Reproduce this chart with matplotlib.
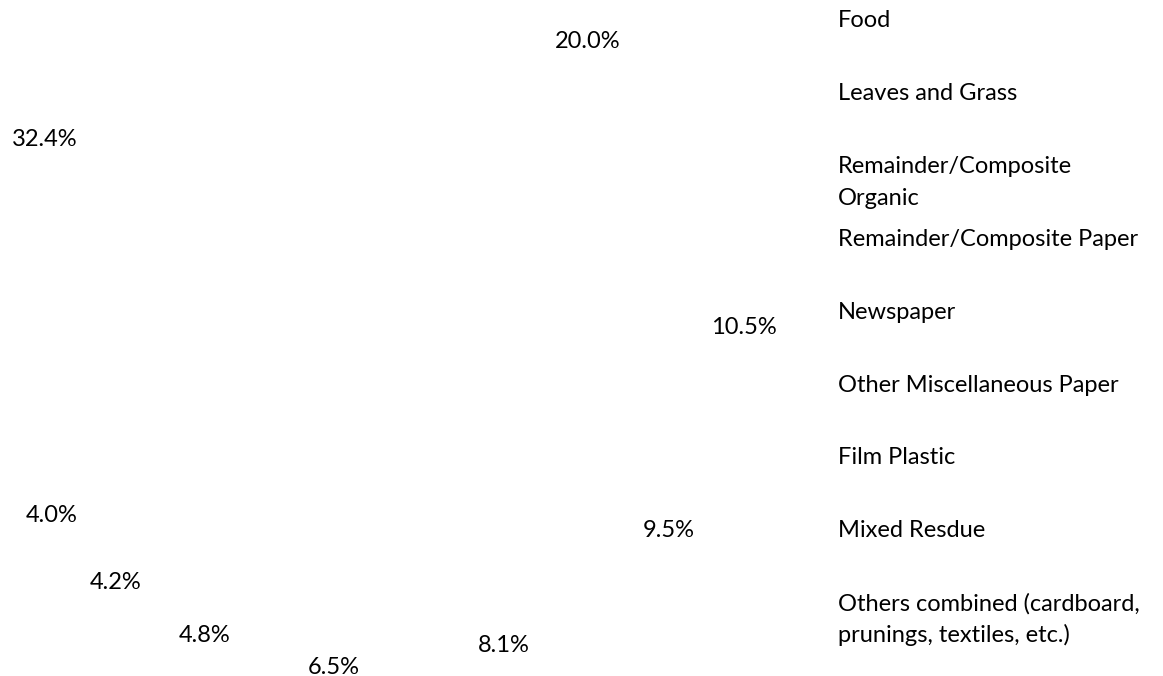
import matplotlib
matplotlib.use("Agg")
import matplotlib.pyplot as plt

plt.rcParams['font.family'] = ['Lato', 'DejaVu Sans']

# 데이터 (엑셀 원형 차트, 12시 방향에서 시계방향)
categories = ['Food', 'Leaves and Grass', 'Remainder/Composite\nOrganic',
              'Remainder/Composite Paper', 'Newspaper', 'Other Miscellaneous Paper',
              'Film Plastic', 'Mixed Resdue',
              'Others combined (cardboard,\nprunings, textiles, etc.)']
shares = [20.0, 10.5, 9.5, 8.1, 6.5, 4.8, 4.2, 4.0, 32.4]

W, H = 1163, 676
fig = plt.figure(figsize=(W / 100, H / 100), dpi=100)

# 원형 중심 / 라벨 반경 (픽셀)
cx, cy = 366, H - 322
rx, ry = 378, 347
ax = fig.add_axes([(cx - rx) / W, (cy - ry) / H, 2 * rx / W, 2 * ry / H])

ax.pie(shares, startangle=90, counterclock=False, radius=1,
       colors=['white'] * len(shares), wedgeprops=dict(linewidth=0),
       autopct='%1.1f%%', pctdistance=1.0,
       textprops=dict(fontsize=17, color='black'))
ax.set_aspect('auto')
ax.set_xlim(-1, 1)
ax.set_ylim(-1, 1)
ax.axis('off')

# 범례 (마커 없이 텍스트만)
for i, lab in enumerate(categories):
    for j, line in enumerate(lab.split('\n')):
        y = 27.0 + 72.9 * i + 32 * j
        fig.text(838 / W, 1 - y / H, line, ha='left', va='baseline',
                 fontsize=17, color='black')

fig.savefig('out.png', dpi=100, facecolor='white')
